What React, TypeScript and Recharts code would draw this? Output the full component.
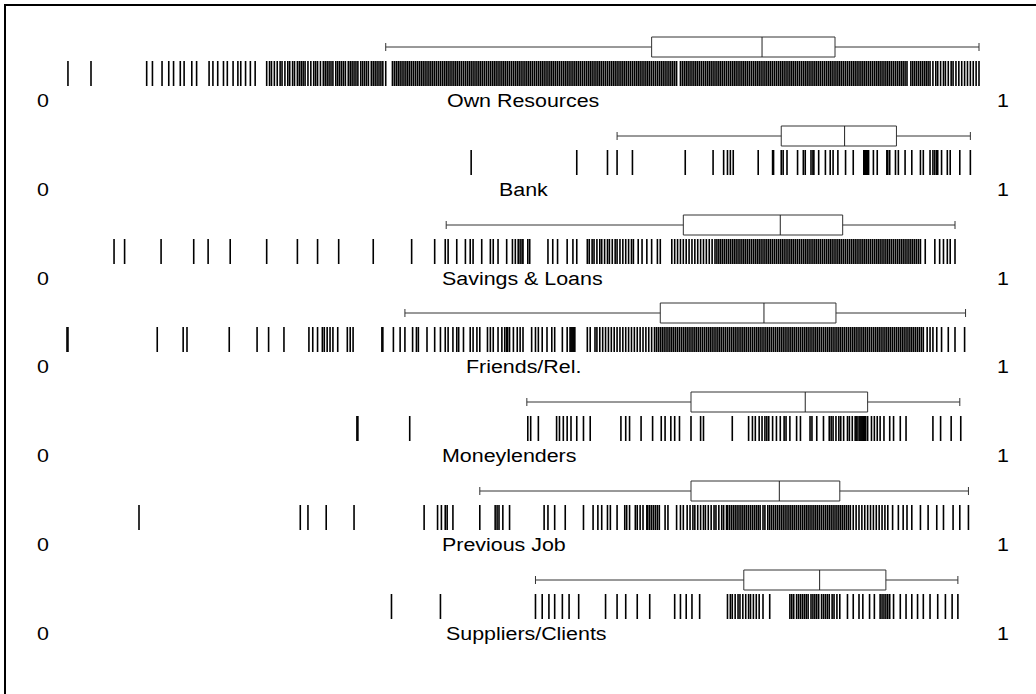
import { ScatterChart, Scatter, XAxis, YAxis, ReferenceArea, ReferenceLine } from 'recharts'

// Rug + box plot of scores (0..1) by source of start-up finance

const CATEGORIES = ['Own Resources', 'Bank', 'Savings & Loans', 'Friends/Rel.', 'Moneylenders', 'Previous Job', 'Suppliers/Clients']
const AXIS_TICKS = [0, 1]

// [lower whisker, q1, median, q3, upper whisker]
const OWN_BOX = [0.357, 0.634, 0.749, 0.825, 0.975]
const BANK_BOX = [0.598, 0.769, 0.835, 0.889, 0.966]
const SAVINGS_BOX = [0.420, 0.667, 0.768, 0.833, 0.950]
const FRIENDS_BOX = [0.377, 0.643, 0.751, 0.826, 0.961]
const MONEY_BOX = [0.504, 0.675, 0.794, 0.859, 0.955]
const JOB_BOX = [0.455, 0.675, 0.767, 0.830, 0.964]
const SUPPLIERS_BOX = [0.513, 0.730, 0.809, 0.878, 0.953]

// individual observations (rug ticks)
const OWN_RUG = [
  0.026, 0.050, 0.108, 0.114, 0.124, 0.131, 0.136, 0.143, 0.147, 0.155, 0.160, 0.173, 0.177, 0.182, 0.188, 0.192, 0.198, 0.203, 0.206, 0.211, 0.216, 0.221,
  0.233, 0.236, 0.238, 0.241, 0.244, 0.247, 0.249, 0.252, 0.255, 0.257, 0.260, 0.262, 0.265, 0.267, 0.269, 0.271, 0.273, 0.276, 0.279, 0.282, 0.284, 0.286,
  0.289, 0.292, 0.294, 0.296, 0.298, 0.300, 0.302, 0.305, 0.307, 0.309, 0.311, 0.313, 0.315, 0.318, 0.320, 0.322, 0.324, 0.326, 0.328, 0.331, 0.333, 0.335,
  0.337, 0.339, 0.342, 0.344, 0.346, 0.348, 0.350, 0.352, 0.354, 0.357,
  0.364, 0.366, 0.368, 0.370, 0.372, 0.374, 0.376, 0.378, 0.380, 0.382, 0.384, 0.386, 0.388, 0.390, 0.392, 0.394, 0.396, 0.398, 0.400, 0.402,
  0.404, 0.406, 0.408, 0.410, 0.412, 0.414, 0.416, 0.418, 0.420, 0.422, 0.424, 0.426, 0.428, 0.430, 0.432, 0.434, 0.436, 0.438, 0.440, 0.442,
  0.444, 0.446, 0.448, 0.450, 0.452, 0.454, 0.456, 0.458, 0.460, 0.462, 0.464, 0.466, 0.468, 0.470, 0.472, 0.474, 0.476, 0.478, 0.480, 0.482,
  0.484, 0.486, 0.488, 0.490, 0.492, 0.494, 0.496, 0.498, 0.500, 0.502, 0.504, 0.506, 0.508, 0.510, 0.512, 0.514, 0.516, 0.518, 0.520, 0.522,
  0.524, 0.526, 0.528, 0.530, 0.532, 0.534, 0.536, 0.538, 0.540, 0.542, 0.544, 0.546, 0.548, 0.550, 0.552, 0.554, 0.556, 0.558, 0.560, 0.562,
  0.564, 0.566, 0.568, 0.570, 0.572, 0.574, 0.576, 0.578, 0.580, 0.582, 0.584, 0.586, 0.588, 0.590, 0.592, 0.594, 0.596, 0.598, 0.600, 0.602,
  0.604, 0.606, 0.608, 0.610, 0.612, 0.614, 0.616, 0.618, 0.620, 0.622, 0.624, 0.626, 0.628, 0.630, 0.632, 0.634, 0.636, 0.638, 0.640, 0.642,
  0.644, 0.646, 0.648, 0.650, 0.652, 0.654, 0.656, 0.658, 0.660, 0.664, 0.666, 0.668, 0.670, 0.672, 0.674, 0.676, 0.678, 0.680, 0.682,
  0.684, 0.686, 0.688, 0.690, 0.692, 0.694, 0.696, 0.698, 0.700, 0.702, 0.704, 0.706, 0.708, 0.710, 0.712, 0.714, 0.716, 0.718, 0.720, 0.722,
  0.724, 0.726, 0.728, 0.730, 0.732, 0.734, 0.736, 0.738, 0.740, 0.742, 0.744, 0.746, 0.748, 0.750, 0.752, 0.754, 0.756, 0.758, 0.760, 0.762,
  0.764, 0.766, 0.768, 0.770, 0.772, 0.774, 0.776, 0.778, 0.780, 0.782, 0.784, 0.786, 0.788, 0.790, 0.792, 0.794, 0.796, 0.798, 0.800, 0.802,
  0.804, 0.806, 0.808, 0.810, 0.812, 0.814, 0.816, 0.818, 0.820, 0.822, 0.824, 0.826, 0.828, 0.830, 0.832, 0.834, 0.836, 0.838, 0.840, 0.842,
  0.844, 0.846, 0.848, 0.850, 0.852, 0.854, 0.856, 0.858, 0.860, 0.862, 0.864, 0.866, 0.868, 0.870, 0.872, 0.874, 0.876, 0.878, 0.880, 0.882,
  0.884, 0.886, 0.888, 0.890, 0.892, 0.894, 0.896, 0.898, 0.900, 0.904, 0.906, 0.908, 0.910, 0.912, 0.914, 0.916, 0.918, 0.920, 0.922, 0.924,
  0.927, 0.930, 0.932, 0.935, 0.938, 0.940, 0.943, 0.946, 0.948, 0.951, 0.954, 0.957, 0.960, 0.963, 0.966, 0.969, 0.972, 0.975,
]
const BANK_RUG = [
  0.446, 0.556, 0.588, 0.598, 0.614, 0.669, 0.698, 0.709, 0.713, 0.716, 0.719, 0.745, 0.760, 0.761, 0.769, 0.771, 0.775, 0.786, 0.792, 0.794,
  0.800, 0.802, 0.803, 0.808, 0.815, 0.820, 0.823, 0.828, 0.836, 0.844, 0.855, 0.856, 0.857, 0.858, 0.859, 0.860, 0.865, 0.869, 0.879, 0.880,
  0.882, 0.888, 0.891, 0.898, 0.905, 0.914, 0.917, 0.924, 0.927, 0.929, 0.931, 0.932, 0.936, 0.942, 0.945, 0.955, 0.966,
]
const SAVINGS_RUG = [
  0.074, 0.085, 0.123, 0.157, 0.172, 0.195, 0.233, 0.265, 0.286, 0.308, 0.344, 0.384, 0.408, 0.419, 0.422, 0.431, 0.440, 0.445, 0.448, 0.457,
  0.466, 0.469, 0.474, 0.483, 0.489, 0.492, 0.495, 0.497, 0.499, 0.500, 0.505, 0.507, 0.526, 0.531, 0.536, 0.546, 0.552, 0.556,
  0.567, 0.569, 0.572, 0.574, 0.577, 0.580, 0.582, 0.585, 0.588, 0.590, 0.593, 0.596, 0.598, 0.601, 0.604, 0.607, 0.610, 0.613, 0.615,
  0.620, 0.624, 0.629, 0.634, 0.640, 0.643,
  0.655, 0.658, 0.661, 0.664, 0.667, 0.670, 0.673, 0.676, 0.679, 0.682, 0.685, 0.688, 0.691, 0.694, 0.697, 0.700,
  0.702, 0.704, 0.706, 0.708, 0.710, 0.712, 0.714, 0.716, 0.718, 0.720, 0.722, 0.724, 0.726, 0.728, 0.730, 0.732, 0.734, 0.736, 0.738, 0.740,
  0.742, 0.744, 0.746, 0.748, 0.750, 0.752, 0.754, 0.756, 0.758, 0.760, 0.762, 0.764, 0.766, 0.768, 0.770, 0.772, 0.774, 0.776, 0.778, 0.780,
  0.782, 0.784, 0.786, 0.788, 0.790, 0.792, 0.794, 0.796, 0.798, 0.800, 0.802, 0.804, 0.806, 0.808, 0.810, 0.812, 0.814, 0.816, 0.818, 0.820,
  0.822, 0.824, 0.826, 0.828, 0.830, 0.832, 0.834, 0.836, 0.838, 0.840, 0.842, 0.844, 0.846, 0.848, 0.850, 0.852, 0.854, 0.856, 0.858, 0.860,
  0.862, 0.864, 0.866, 0.868, 0.870, 0.872, 0.874, 0.876, 0.878, 0.880, 0.882, 0.884, 0.886, 0.888, 0.890, 0.892, 0.894, 0.896, 0.898, 0.900,
  0.902, 0.904, 0.906, 0.908, 0.910, 0.912, 0.914,
  0.919, 0.929, 0.934, 0.938, 0.942, 0.945, 0.950,
]
const FRIENDS_RUG = [
  0.025, 0.026, 0.119, 0.146, 0.150, 0.194, 0.223, 0.235, 0.251, 0.277, 0.281, 0.286, 0.291, 0.293, 0.296, 0.299, 0.302, 0.307, 0.317, 0.320,
  0.323, 0.353, 0.354, 0.365, 0.372, 0.377, 0.385, 0.389, 0.391, 0.400, 0.408, 0.414, 0.419, 0.422, 0.427, 0.431, 0.433, 0.438, 0.445, 0.448,
  0.452, 0.455, 0.463, 0.466, 0.469, 0.474, 0.478, 0.481, 0.483, 0.484, 0.486, 0.490, 0.494, 0.497, 0.500, 0.509, 0.513, 0.516, 0.520, 0.525,
  0.530, 0.533, 0.541, 0.546, 0.549, 0.550, 0.551, 0.552, 0.553, 0.554, 0.567, 0.570, 0.575, 0.577,
  0.580, 0.583, 0.586, 0.589, 0.592, 0.595, 0.598, 0.601, 0.604, 0.607, 0.610, 0.613, 0.616, 0.619, 0.622, 0.625, 0.628, 0.631, 0.634,
  0.637, 0.639, 0.641, 0.643, 0.645, 0.647, 0.649, 0.651, 0.653, 0.655, 0.657, 0.659, 0.661, 0.663, 0.665, 0.667, 0.669, 0.671, 0.673, 0.675,
  0.677, 0.679, 0.681, 0.683, 0.685, 0.687, 0.689, 0.691, 0.693, 0.695, 0.697, 0.699, 0.701, 0.703, 0.705, 0.707, 0.709, 0.711, 0.713, 0.715,
  0.717, 0.719, 0.721, 0.723, 0.725, 0.727, 0.729, 0.731, 0.733, 0.735, 0.737, 0.739, 0.741, 0.743, 0.745, 0.747, 0.749, 0.751, 0.753, 0.755,
  0.757, 0.759, 0.761, 0.763, 0.765, 0.767, 0.769, 0.771, 0.773, 0.775, 0.777, 0.779, 0.781, 0.783, 0.785, 0.787, 0.789, 0.791, 0.793, 0.795,
  0.797, 0.799, 0.801, 0.803, 0.805, 0.807, 0.809, 0.811, 0.813, 0.815, 0.817, 0.819, 0.821, 0.823, 0.825, 0.827, 0.829, 0.831, 0.833, 0.835,
  0.837, 0.839, 0.841, 0.843, 0.845, 0.847, 0.849, 0.851, 0.853, 0.855, 0.857, 0.859, 0.861, 0.863, 0.865, 0.867, 0.869, 0.871, 0.873, 0.875,
  0.877, 0.879, 0.881, 0.883, 0.885, 0.887, 0.889, 0.891, 0.893, 0.895, 0.897, 0.899, 0.901, 0.903, 0.905, 0.907, 0.909, 0.911, 0.913, 0.915,
  0.917, 0.921, 0.924, 0.927, 0.931, 0.936, 0.943, 0.950, 0.960,
]
const MONEY_RUG = [
  0.327, 0.328, 0.382, 0.505, 0.508, 0.516, 0.535, 0.538, 0.542, 0.546, 0.550, 0.556, 0.563, 0.570, 0.602, 0.607, 0.611, 0.623, 0.635, 0.644,
  0.648, 0.654, 0.658, 0.663, 0.675, 0.685, 0.688, 0.718, 0.735, 0.739, 0.742, 0.746, 0.749, 0.752, 0.754, 0.756, 0.760, 0.764, 0.768, 0.772,
  0.774, 0.778, 0.785, 0.789, 0.799, 0.801, 0.806, 0.813, 0.819, 0.821, 0.823, 0.826, 0.829, 0.831, 0.834, 0.838, 0.840, 0.843, 0.846, 0.847,
  0.848, 0.850, 0.851, 0.852, 0.853, 0.854, 0.855, 0.856, 0.857, 0.859, 0.863, 0.866, 0.869, 0.872, 0.876, 0.882, 0.886, 0.893, 0.899, 0.927,
  0.935, 0.946, 0.956,
]
const JOB_RUG = [
  0.100, 0.268, 0.276, 0.295, 0.324, 0.397, 0.411, 0.415, 0.419, 0.421, 0.427, 0.455, 0.471, 0.473, 0.475, 0.479, 0.486, 0.522, 0.526, 0.533,
  0.544, 0.563, 0.573, 0.578, 0.582, 0.588, 0.591, 0.598, 0.606, 0.608, 0.611, 0.617, 0.619, 0.622, 0.625, 0.629,
  0.630, 0.632, 0.634, 0.636, 0.638, 0.640, 0.642, 0.648, 0.651, 0.660, 0.664, 0.667, 0.671,
  0.674, 0.677, 0.679, 0.682, 0.685, 0.688, 0.690, 0.693, 0.696, 0.699, 0.701, 0.704, 0.707, 0.709, 0.712,
  0.713, 0.715, 0.717, 0.719, 0.721, 0.723, 0.725, 0.727, 0.729, 0.731, 0.733, 0.735, 0.737, 0.739, 0.741, 0.743, 0.745, 0.747,
  0.750, 0.752, 0.755,
  0.757, 0.759, 0.761, 0.763, 0.765, 0.767, 0.769, 0.771, 0.773, 0.775, 0.777, 0.779, 0.781, 0.783, 0.785, 0.787, 0.789, 0.791, 0.793, 0.795,
  0.797, 0.799, 0.801, 0.803, 0.805, 0.807, 0.809, 0.811, 0.813, 0.815, 0.817, 0.819, 0.821, 0.823, 0.825, 0.827, 0.829, 0.831, 0.833, 0.835,
  0.837, 0.839, 0.841,
  0.844, 0.847, 0.850, 0.853, 0.856, 0.859, 0.862, 0.865, 0.868, 0.871, 0.874, 0.877, 0.880,
  0.885, 0.891, 0.896, 0.900, 0.905, 0.914, 0.922, 0.931, 0.938, 0.948, 0.955, 0.964,
]
const SUPPLIERS_RUG = [
  0.363, 0.414, 0.513, 0.520, 0.527, 0.533, 0.541, 0.548, 0.558, 0.586, 0.598, 0.607, 0.619, 0.632, 0.658, 0.664, 0.670, 0.676, 0.684,
  0.713, 0.716, 0.718, 0.721, 0.724, 0.726, 0.729, 0.732, 0.735, 0.737, 0.740, 0.743, 0.746, 0.750, 0.757,
  0.778, 0.780, 0.782, 0.785, 0.787, 0.789, 0.791, 0.793, 0.795, 0.797, 0.800, 0.802, 0.804, 0.806, 0.808, 0.811, 0.813, 0.815, 0.817, 0.819,
  0.822, 0.824, 0.827, 0.830, 0.838, 0.844, 0.850, 0.854, 0.861, 0.866, 0.872, 0.874, 0.876, 0.878, 0.880, 0.882,
  0.886, 0.893, 0.899, 0.905, 0.911, 0.917, 0.924, 0.932, 0.940, 0.947, 0.953,
]

const BOXES = [OWN_BOX, BANK_BOX, SAVINGS_BOX, FRIENDS_BOX, MONEY_BOX, JOB_BOX, SUPPLIERS_BOX]
const RUGS = [OWN_RUG, BANK_RUG, SAVINGS_RUG, FRIENDS_RUG, MONEY_RUG, JOB_RUG, SUPPLIERS_RUG]

// layout
const WIDTH = 1036
const ROW_HEIGHT = 96 // rows overlap a little so descenders are not cut
const ROW_STEP = 88.8
const FIRST_ROW_TOP = 20
const PLOT_H = 69 // vertical units == px inside each row's plot area
const WHISKER_Y = 27
const CAP_HALF = 4
const BOX_TOP = 17
const BOX_BOTTOM = 37
const RUG_Y = 53.5
const RUG_HALF = 12.5
const LABEL_X = [447, 499, 442, 466, 442, 442, 446]
const LINE_COLOR = '#333'
const FONT = "'Liberation Sans', Arial, Helvetica, sans-serif"
const FONT_SIZE = 18
const TEXT_STRETCH = 1.19 // the source graph's text is stretched horizontally

const RugTick = (props: any) => {
  const { cx, cy } = props
  return <line x1={cx} x2={cx} y1={cy - RUG_HALF} y2={cy + RUG_HALF} stroke="#000" strokeWidth={1.6} />
}

const StretchedText = ({ x, y, anchor, children }: { x: number; y: number; anchor: 'start' | 'middle'; children: any }) => (
  <text
    transform={`translate(${x},${y}) scale(${TEXT_STRETCH},1)`}
    textAnchor={anchor}
    dy="0.71em"
    fontSize={FONT_SIZE}
    fontFamily={FONT}
    fill="#000"
  >
    {children}
  </text>
)

const ZeroOneTick = (props: any) => {
  const { x, y, payload } = props
  return <StretchedText x={x} y={y} anchor="middle">{payload.value}</StretchedText>
}

function RugBoxRow({ name, box, rug, labelX, top }: { name: string; box: number[]; rug: number[]; labelX: number; top: number }) {
  const [lo, q1, med, q3, hi] = box
  const data = rug.map(v => ({ x: v, y: RUG_Y }))
  return (
    <div style={{ position: 'absolute', left: 0, top }}>
      <ScatterChart width={WIDTH} height={ROW_HEIGHT} margin={{ top: 0, right: 33, bottom: 0, left: 43 }}>
        <XAxis
          type="number"
          dataKey="x"
          domain={[0, 1]}
          ticks={AXIS_TICKS}
          interval={0}
          axisLine={false}
          tickLine={false}
          tickSize={0}
          tickMargin={5}
          height={ROW_HEIGHT - PLOT_H}
          tick={ZeroOneTick}
          label={(p: any) => (
            <StretchedText x={labelX} y={(p?.viewBox?.y ?? PLOT_H) + 5} anchor="start">{name}</StretchedText>
          )}
        />
        <YAxis type="number" dataKey="y" domain={[0, PLOT_H]} reversed hide />
        <ReferenceLine segment={[{ x: lo, y: WHISKER_Y }, { x: q1, y: WHISKER_Y }]} stroke={LINE_COLOR} />
        <ReferenceLine segment={[{ x: q3, y: WHISKER_Y }, { x: hi, y: WHISKER_Y }]} stroke={LINE_COLOR} />
        <ReferenceLine segment={[{ x: lo, y: WHISKER_Y - CAP_HALF }, { x: lo, y: WHISKER_Y + CAP_HALF }]} stroke={LINE_COLOR} />
        <ReferenceLine segment={[{ x: hi, y: WHISKER_Y - CAP_HALF }, { x: hi, y: WHISKER_Y + CAP_HALF }]} stroke={LINE_COLOR} />
        <ReferenceArea x1={q1} x2={q3} y1={BOX_TOP} y2={BOX_BOTTOM} fill="#fff" fillOpacity={1} stroke={LINE_COLOR} strokeWidth={1} />
        <ReferenceLine segment={[{ x: med, y: BOX_TOP }, { x: med, y: BOX_BOTTOM }]} stroke="#222" />
        <Scatter data={data} shape={RugTick} isAnimationActive={false} />
      </ScatterChart>
    </div>
  )
}

export default function App() {
  return (
    <div style={{ position: 'fixed', left: 0, top: 0, width: WIDTH, height: 694, overflow: 'hidden', background: '#fff', fontFamily: FONT }}>
      <div style={{ position: 'absolute', left: 4, top: 4, width: 1200, height: 900, border: '2px solid #000' }} />
      {CATEGORIES.map((name, i) => (
        <RugBoxRow
          key={name}
          name={name}
          box={BOXES[i]}
          rug={RUGS[i]}
          labelX={LABEL_X[i]}
          top={Math.round(FIRST_ROW_TOP + i * ROW_STEP)}
        />
      ))}
    </div>
  )
}
